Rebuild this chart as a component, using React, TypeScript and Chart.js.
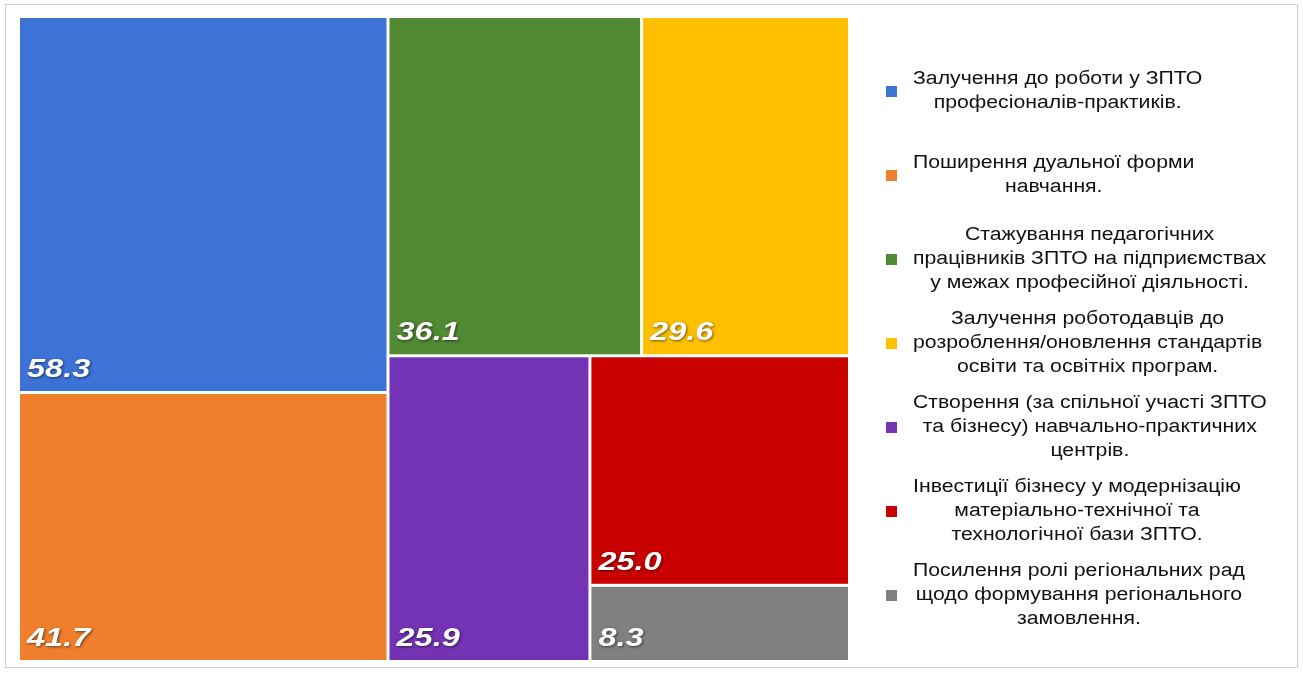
import React, { useEffect, useRef } from "react";
import { Chart, registerables } from "chart.js";

Chart.register(...registerables);

// ---- data ----
const categories: string[][] = [
  ["Залучення до роботи у ЗПТО", "професіоналів-практиків."],
  ["Поширення дуальної форми", "навчання."],
  ["Стажування педагогічних", "працівників ЗПТО на підприємствах", "у межах професійної діяльності."],
  ["Залучення роботодавців до", "розроблення/оновлення стандартів", "освіти та освітніх програм."],
  ["Створення (за спільної участі ЗПТО", "та бізнесу) навчально-практичних", "центрів."],
  ["Інвестиції бізнесу у модернізацію", "матеріально-технічної та", "технологічної бази ЗПТО."],
  ["Посилення ролі регіональних рад", "щодо формування регіонального", "замовлення."],
];
const values: number[] = [58.3, 41.7, 36.1, 29.6, 25.9, 25.0, 8.3];
const valueLabels: string[] = values.map((v) => v.toFixed(1));
const colors: string[] = ["#3d73d6", "#ef7f2d", "#508a32", "#ffc000", "#7433b4", "#c80000", "#808080"];

type Rect = { x: number; y: number; w: number; h: number };

function worst(row: number[], s: number): number {
  const sum = row.reduce((a, b) => a + b, 0);
  let m = 0;
  for (const r of row) {
    m = Math.max(m, (s * s * r) / (sum * sum), (sum * sum) / (s * s * r));
  }
  return m;
}

function squarify(areas: number[], x: number, y: number, w: number, h: number, out: Rect[]) {
  if (!areas.length) return;
  const short = Math.min(w, h);
  let row: number[] = [];
  let i = 0;
  while (i < areas.length) {
    const cand = [...row, areas[i]];
    if (row.length === 0 || worst(cand, short) <= worst(row, short)) {
      row = cand;
      i++;
    } else break;
  }
  const rowSum = row.reduce((a, b) => a + b, 0);
  const rest = areas.slice(i);
  if (w >= h) {
    const cw = rowSum / h;
    let cy = y;
    for (const a of row) {
      const rh = a / cw;
      out.push({ x, y: cy, w: cw, h: rh });
      cy += rh;
    }
    squarify(rest, x + cw, y, w - cw, h, out);
  } else {
    const rh = rowSum / w;
    let cx = x;
    for (const a of row) {
      const cw = a / rh;
      out.push({ x: cx, y, w: cw, h: rh });
      cx += cw;
    }
    squarify(rest, x, y + rh, w, h - rh, out);
  }
}

const treemapPlugin = {
  id: "treemapPlugin",
  beforeDraw(chart: any) {
    const ctx = chart.ctx as CanvasRenderingContext2D;
    ctx.save();
    ctx.fillStyle = "#ffffff";
    ctx.fillRect(0, 0, chart.width, chart.height);
    ctx.strokeStyle = "#cfcfcf";
    ctx.lineWidth = 1;
    ctx.strokeRect(5.5, 4.5, chart.width - 11, chart.height - 10);
    ctx.restore();
  },
  afterDatasetsDraw(chart: any) {
    const ctx = chart.ctx as CanvasRenderingContext2D;
    const area = chart.chartArea;
    const xs = chart.scales.x;
    const ys = chart.scales.y;
    const aspect = area.width / area.height;
    const total = values.reduce((a, b) => a + b, 0);
    const areas = values.map((v) => (v / total) * aspect);
    const rects: Rect[] = [];
    squarify(areas, 0, 0, aspect, 1, rects);
    const gap = 1.5;
    ctx.save();
    rects.forEach((r, i) => {
      const x0 = xs.getPixelForValue(r.x / aspect);
      const x1 = xs.getPixelForValue((r.x + r.w) / aspect);
      const y0 = ys.getPixelForValue(r.y);
      const y1 = ys.getPixelForValue(r.y + r.h);
      const left = x0 + gap;
      const top = y0 + gap;
      const w = x1 - x0 - 2 * gap;
      const h = y1 - y0 - 2 * gap;
      ctx.fillStyle = colors[i];
      ctx.fillRect(left, top, w, h);
      ctx.save();
      ctx.font = "bold italic 26px 'Liberation Sans', Arial, sans-serif";
      ctx.fillStyle = "#ffffff";
      ctx.textAlign = "left";
      ctx.textBaseline = "alphabetic";
      ctx.shadowColor = "rgba(0,0,0,0.55)";
      ctx.shadowBlur = 3;
      ctx.shadowOffsetX = 1;
      ctx.shadowOffsetY = 1;
      ctx.translate(left + 7, top + h - 14);
      ctx.scale(1.25, 1);
      ctx.fillText(valueLabels[i], 0, 0);
      ctx.restore();
    });
    ctx.restore();

    // legend
    ctx.save();
    const font = "18px 'Liberation Sans', Arial, sans-serif";
    const sx = 1.18;
    ctx.font = font;
    ctx.textBaseline = "middle";
    ctx.textAlign = "center";
    const slot = 84;
    const lineH = 24;
    const cy0 = (area.top + area.bottom) / 2 + 4;
    const n = categories.length;
    const markerX = 886;
    const textLeft = 913;
    categories.forEach((lines, i) => {
      const cy = cy0 + (i - (n - 1) / 2) * slot;
      ctx.fillStyle = colors[i];
      ctx.fillRect(markerX, cy - 5, 11, 11);
      const maxW = Math.max(...lines.map((l) => ctx.measureText(l).width)) * sx;
      const cx = textLeft + maxW / 2;
      ctx.fillStyle = "#111111";
      lines.forEach((l, k) => {
        const ly = cy + (k - (lines.length - 1) / 2) * lineH;
        ctx.save();
        ctx.translate(cx, ly);
        ctx.scale(sx, 1);
        ctx.fillText(l, 0, 0);
        ctx.restore();
      });
    });
    ctx.restore();
  },
};

export default function App() {
  const ref = useRef<HTMLCanvasElement | null>(null);
  useEffect(() => {
    if (!ref.current) return;
    const chart = new Chart(ref.current, {
      type: "scatter",
      data: { datasets: [{ data: [] }] },
      options: {
        animation: false,
        responsive: false,
        layout: { padding: { left: 18.5, top: 16.5, right: 453.5, bottom: 11.5 } },
        scales: {
          x: { type: "linear", min: 0, max: 1, display: false },
          y: { type: "linear", min: 0, max: 1, reverse: true, display: false },
        },
        plugins: { legend: { display: false }, tooltip: { enabled: false } },
      },
      plugins: [treemapPlugin],
    } as any);
    return () => chart.destroy();
  }, []);
  return (
    <div style={{ position: "fixed", left: 0, top: 0, width: 1303, height: 673, background: "#fff" }}>
      <canvas ref={ref} width={1303} height={673} style={{ width: 1303, height: 673, display: "block" }} />
    </div>
  );
}
